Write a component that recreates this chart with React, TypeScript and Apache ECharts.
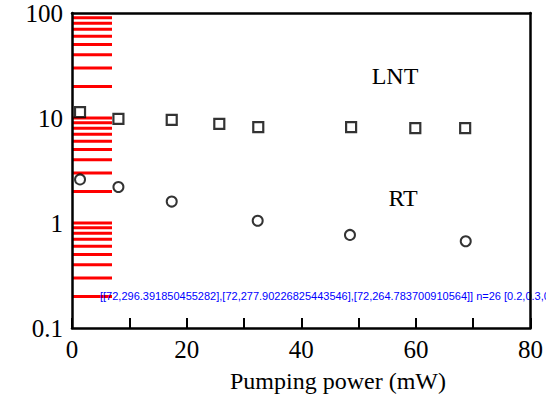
import React, { useEffect, useRef } from "react";
import * as echarts from "echarts";

// Relaxation time vs pumping power, liquid-nitrogen (LNT) and room temperature (RT)
const lntPower = [1.4, 8.1, 17.4, 25.7, 32.5, 48.7, 59.9, 68.6];
const lntTau = [11.4, 9.8, 9.6, 8.8, 8.2, 8.2, 8.0, 8.0];
const rtPower = [1.4, 8.1, 17.4, 32.4, 48.5, 68.7];
const rtTau = [2.6, 2.2, 1.6, 1.05, 0.77, 0.67];

const yTickLabels = [0.1, 1, 10, 100];
const xTickLabels = [0, 20, 40, 60, 80];

const FONT = "Liberation Serif, DejaVu Serif, serif";

// Log-axis ticks at 2..9 within each decade, plus the long decade ticks
const minorTickValues: number[] = [];
[0.1, 1, 10].forEach((d) => {
  for (let k = 2; k <= 9; k++) minorTickValues.push(+(d * k).toPrecision(3));
});
const majorTickValues = [1, 10];

const frameAxis = (position: string) => ({
  type: "value",
  position,
  min: 0,
  max: 1,
  axisLine: { show: true, onZero: false, lineStyle: { color: "#000", width: 2.5 } },
  axisTick: { show: false },
  axisLabel: { show: false },
  splitLine: { show: false },
});

export default function App() {
  const ref = useRef<HTMLDivElement>(null);

  useEffect(() => {
    if (!ref.current) return;
    const chart = echarts.init(ref.current, null, { renderer: "svg" });

    const textStyle = (text: string) => ({
      text,
      fill: "#000",
      fontFamily: FONT,
      fontSize: 24,
      align: "center",
      verticalAlign: "middle",
    });

    chart.setOption({
      animation: false,
      backgroundColor: "#fff",
      grid: { left: 72, right: 13, top: 13, bottom: 75 },
      xAxis: [
        {
          type: "value",
          position: "bottom",
          min: 0,
          max: 80,
          interval: 10,
          axisLine: { show: true, onZero: false, lineStyle: { color: "#000", width: 2.5 } },
          axisTick: { show: true, inside: true, length: 10, lineStyle: { color: "#000", width: 2 } },
          splitLine: { show: false },
          axisLabel: {
            color: "#000",
            fontFamily: FONT,
            fontSize: 25,
            margin: 9,
            formatter: (v: number) => (xTickLabels.includes(v) ? String(v) : ""),
          },
        },
        frameAxis("top"),
      ],
      yAxis: [
        {
          type: "log",
          position: "left",
          min: 0.1,
          max: 100,
          axisLine: { show: true, onZero: false, lineStyle: { color: "#000", width: 2.5 } },
          axisTick: { show: false },
          splitLine: { show: false },
          axisLabel: {
            color: "#000",
            fontFamily: FONT,
            fontSize: 25,
            margin: 9,
            formatter: (v: number) => {
              const m = yTickLabels.find((t) => Math.abs(t - v) / t < 1e-6);
              return m !== undefined ? String(m) : "";
            },
          },
        },
        frameAxis("right"),
      ],
      series: [
        {
          type: "scatter",
          name: "LNT",
          xAxisIndex: 0,
          yAxisIndex: 0,
          symbol: "rect",
          symbolSize: 10,
          data: lntPower.map((x, i) => [x, lntTau[i]]),
          itemStyle: { color: "#fff", borderColor: "#000", borderWidth: 2.2 },
          z: 5,
        },
        {
          type: "scatter",
          name: "RT",
          xAxisIndex: 0,
          yAxisIndex: 0,
          symbol: "circle",
          symbolSize: 10,
          data: rtPower.map((x, i) => [x, rtTau[i]]),
          itemStyle: { color: "#fff", borderColor: "#000", borderWidth: 2 },
          z: 5,
        },
      ],
    });

    const allTicks = [...minorTickValues, ...majorTickValues];
    const pts = allTicks.map((v) => chart.convertToPixel({ xAxisIndex: 0, yAxisIndex: 0 }, [0, v]) as number[]);
    const tickLines = allTicks.map((v, i) => ({
      type: "line",
      id: "ytick" + i,
      shape: { x1: pts[i][0], y1: pts[i][1], x2: pts[i][0] + 40, y2: pts[i][1] },
      style: { stroke: "red", lineWidth: 3 },
    }));

    chart.setOption({
      graphic: [
        ...tickLines,
        {
          type: "text",
          id: "dbg",
          x: 100,
          y: 290,
          style: { text: JSON.stringify(pts.slice(0, 3)) + " n=" + allTicks.length + " " + JSON.stringify(allTicks.slice(0, 4)), fill: "blue", fontSize: 11 },
        },
        { type: "text", id: "lnt", x: 395, y: 76, style: textStyle("LNT") },
        { type: "text", id: "rt", x: 403, y: 198, style: textStyle("RT") },
        { type: "text", id: "xname", x: 338, y: 381, style: textStyle("Pumping power (mW)") },
      ],
    });

    return () => chart.dispose();
  }, []);

  return (
    <div
      ref={ref}
      style={{ position: "fixed", left: 0, top: 0, width: 546, height: 403 }}
    />
  );
}
